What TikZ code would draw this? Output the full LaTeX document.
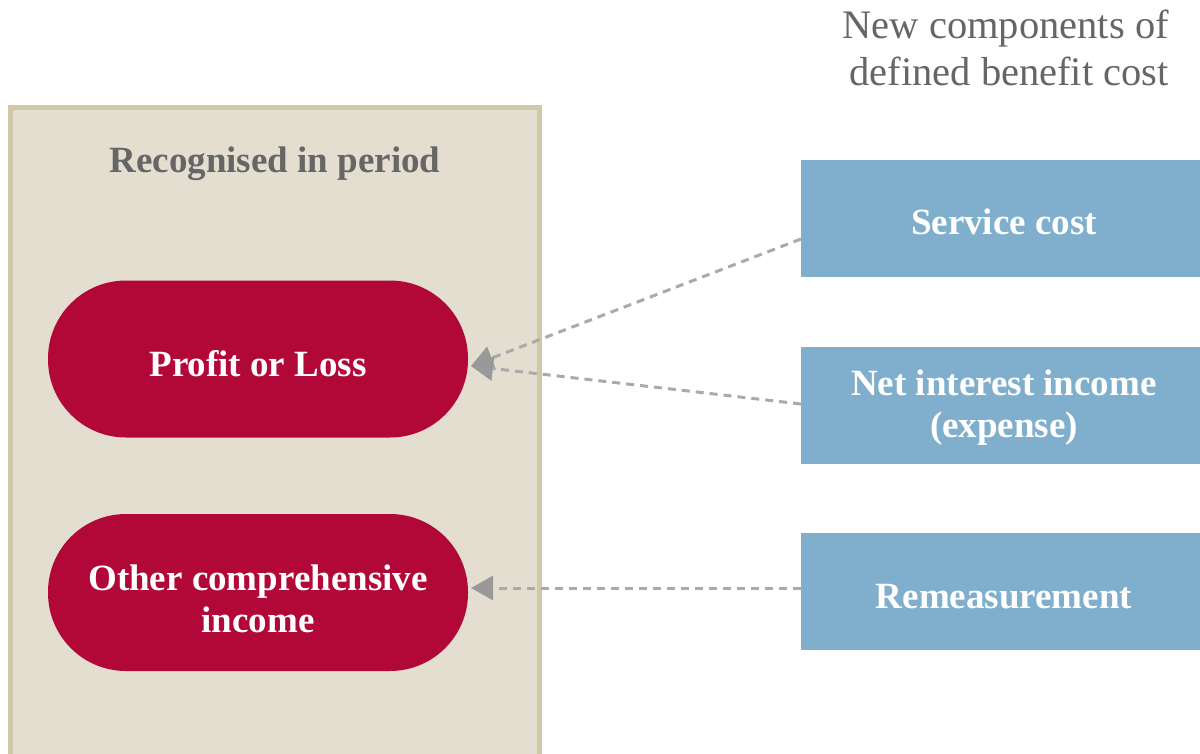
\documentclass[tikz,border=0pt]{standalone}
\usepackage{fontspec}
\setmainfont{Liberation Serif}
\usetikzlibrary{arrows.meta}
\definecolor{boxfill}{HTML}{E3DED0}
\definecolor{boxline}{HTML}{D1C8A8}
\definecolor{pillred}{HTML}{B20838}
\definecolor{bluebox}{HTML}{7FAFCC}
\definecolor{titlegray}{HTML}{666666}
\definecolor{dashgray}{HTML}{AAAAAA}
\definecolor{tipgray}{HTML}{999999}
\tikzset{
  pill/.style={fill=pillred, rounded corners=78pt, minimum width=420pt, minimum height=157pt, inner sep=0pt},
  bluenode/.style={fill=bluebox, minimum width=400pt, minimum height=117pt, inner sep=0pt},
  wlabel/.style={text=white, align=center, inner sep=0pt, font=\fontsize{37}{42}\selectfont\bfseries},
  conn/.style={draw=dashgray, line width=3pt, dash pattern=on 8pt off 6pt,
    -{Triangle[length=22pt,width=24pt,color=tipgray]}}
}
\begin{document}
\begin{tikzpicture}[x=1pt,y=-1pt]
\useasboundingbox (0,0) rectangle (1200,753);
% container
\draw[fill=boxfill, draw=boxline, line width=5pt] (10.5,107.5) rectangle (539.5,770);
\node[text=titlegray, inner sep=0pt, font=\fontsize{37}{42}\selectfont\bfseries] (rec) at (275,164) {Recognised in period};
% pills
\node[pill] (pl) at (258,359) {};
\node[wlabel] (pltext) at (258,364) {Profit or Loss};
\node[pill] (oci) at (258,592.5) {};
\node[wlabel] (ocitext) at (258,599) {Other comprehensive\\income};
% title
\node[text=titlegray, align=right, anchor=north east, inner sep=0pt, font=\fontsize{40.5}{47}\selectfont] (title) at (1169,10) {New components of\\defined benefit cost};
% blue boxes
\node[bluenode] (svc) at (1001,218.5) {};
\node[wlabel] (svctext) at (1004,222) {Service cost};
\node[bluenode] (nii) at (1001,405.5) {};
\node[wlabel] (niitext) at (1004,408) {Net interest income\\(expense)};
\node[bluenode] (rem) at (1001,591.5) {};
\node[wlabel] (remtext) at (1004,597) {Remeasurement};
% connectors
\coordinate (t1) at (471,366);
\coordinate (t2) at (471,588);
\coordinate (s1) at (801,239);
\coordinate (s2) at (801,404);
\coordinate (s3) at (801,588);
\draw[conn] (s1) -- (t1);
\draw[conn] (s2) -- (t1);
\draw[conn] (s3) -- (t2);
\end{tikzpicture}
\end{document}
